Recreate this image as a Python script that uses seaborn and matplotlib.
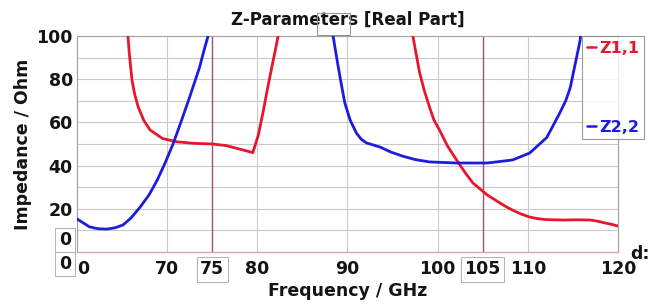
import numpy as np
import pandas as pd
import matplotlib
matplotlib.use("Agg")
import matplotlib.pyplot as plt
import seaborn as sns

# ---- data ----
z11_b1_f = [65.5, 65.65, 65.8, 66.1, 66.4, 66.8, 67.4, 68.1, 69.5, 71.1, 73.0, 75.0, 76.5, 77.7, 78.8, 79.5,
            80.1, 80.6, 81.1, 81.7, 82.0, 82.3, 82.5]
z11_b1_v = [108, 100, 92, 79.6, 73, 67, 61, 56.5, 52.5, 51, 50.3, 50, 49.3, 48, 46.8, 46,
            54, 64, 75, 87.5, 93.5, 100, 106]
z11_b2_f = [97.1, 97.25, 97.6, 98.0, 98.5, 99.1, 99.6, 100.2, 101.1, 102.1, 103.0, 103.9, 104.7, 105.5, 106.9,
            107.7, 108.5, 109.3, 110.2, 111.0, 112.0, 113.9, 115.4, 116.9, 117.7, 118.5, 119.3, 120.0]
z11_b2_v = [106, 100, 92, 83, 75, 67, 61, 56.5, 49, 42.6, 37, 32, 29.2, 26.4, 22.7,
            20.7, 19, 17.5, 16.2, 15.5, 15, 14.8, 14.9, 14.8, 14.3, 13.5, 12.8, 12]
z22_b1_f = [60.0, 61.4, 62.3, 63.3, 64.2, 65.1, 66.0, 67.0, 68.0, 68.9, 69.8, 70.7, 71.6, 72.5, 73.6, 74.0,
            74.5, 74.6]
z22_b1_v = [15.3, 11.6, 10.8, 10.6, 11.2, 12.5, 15.8, 20.8, 26.5, 33.3, 41.5, 50.5, 61, 71.8, 85.6, 92,
            99.5, 104]
z22_b2_f = [88.3, 88.4, 88.6, 88.9, 89.3, 89.7, 90.3, 91.0, 91.5, 92.1, 93.6, 94.8, 96.1, 97.5, 99.1, 102.1,
            105.5, 108.3, 110.2, 112.1, 113.5, 114.2, 114.7, 115.2, 115.8, 115.9]
z22_b2_v = [104, 100, 95, 87.5, 78, 69, 61, 55, 52.3, 50.5, 48.6, 46.3, 44.4, 42.8, 41.7, 41.2,
            41.2, 42.6, 45.8, 53, 64, 70, 76, 86, 98, 104]

series_names = ["Z1,1", "Z2,2"]
x_ticks = [60, 70, 75, 80, 90, 100, 105, 110, 120]
x_tick_labels = ["0", "70", "75", "80", "90", "100", "105", "110", "120"]
y_ticks = [20, 40, 60, 80, 100]
y_tick_labels = ["20", "40", "60", "80", "100"]
marker_freqs = [75, 105]

rows = []
for name, unit, fs, vs in [("Z1,1", 1, z11_b1_f, z11_b1_v), ("Z1,1", 2, z11_b2_f, z11_b2_v),
                           ("Z2,2", 3, z22_b1_f, z22_b1_v), ("Z2,2", 4, z22_b2_f, z22_b2_v)]:
    for f, v in zip(fs, vs):
        rows.append({"freq": f, "z": v, "series": name, "branch": unit})
df = pd.DataFrame(rows)

sns.set_style("white")
plt.rcParams["font.family"] = ["DejaVu Sans"]
plt.rcParams["font.weight"] = "bold"
plt.rcParams["text.color"] = "#141414"
plt.rcParams["axes.labelcolor"] = "#141414"
plt.rcParams["xtick.color"] = "#141414"
plt.rcParams["ytick.color"] = "#141414"

RED = "#e8162c"
BLUE = "#1c1ce0"

fig = plt.figure(figsize=(6.52, 3.05), dpi=100)
ax = fig.add_axes([77 / 652, 1 - 252 / 305, (618 - 77) / 652, (252 - 36) / 305])

sns.lineplot(data=df, x="freq", y="z", hue="series", units="branch", estimator=None,
             sort=False, palette={"Z1,1": RED, "Z2,2": BLUE}, linewidth=2.0, ax=ax, legend=False,
             zorder=3)

ax.set_xlim(60, 120)
ax.set_ylim(0, 100)

# grid
for yv in range(10, 100, 10):
    ax.axhline(yv, color="#c9c9c9", lw=0.8, zorder=1)
for xv in x_ticks[1:-1]:
    if xv in marker_freqs:
        ax.axvline(xv, color="#a05070", lw=1.0, zorder=2)
    else:
        ax.axvline(xv, color="#c9c9c9", lw=0.8, zorder=1)

for s in ["left", "top", "right"]:
    ax.spines[s].set_color("#a0a0a0")
    ax.spines[s].set_linewidth(0.8)
ax.spines["bottom"].set_color("#e0a0b8")
ax.spines["bottom"].set_linewidth(1.0)

ax.set_xticks(x_ticks)
ax.set_xticklabels(x_tick_labels)
ax.set_yticks(y_ticks)
ax.set_yticklabels(y_tick_labels)
ax.tick_params(axis="both", length=0, labelsize=12.5, labelcolor="#141414")
ax.tick_params(axis="x", pad=6)
ax.tick_params(axis="y", pad=3)
for lab in ax.get_xticklabels() + ax.get_yticklabels():
    lab.set_fontweight("bold")
for lab in ax.get_xticklabels():
    if lab.get_text() in ("75", "105"):
        lab.set_bbox(dict(facecolor="none", edgecolor="#b0b0b0", lw=0.7, pad=2.5))
lab0 = ax.get_xticklabels()[0]
lab0.set_horizontalalignment("left")

ax.set_xlabel("Frequency / GHz", fontsize=12.5, fontweight="bold", labelpad=3, color="#141414")
ax.set_ylabel("Impedance / Ohm", fontsize=12.5, fontweight="bold", labelpad=3, color="#141414")
ax.set_title("Z-Parameters [Real Part]", fontsize=12, fontweight="bold", pad=8, color="#141414")

# boxed artifacts
fig.text(65 / 652, 1 - 240 / 305, "0", ha="center", va="center", fontsize=12.5, fontweight="bold",
         bbox=dict(facecolor="white", edgecolor="#b0b0b0", lw=0.7, boxstyle="square,pad=0.2"))
fig.text(65 / 652, 1 - 264 / 305, "0", ha="center", va="center", fontsize=12.5, fontweight="bold",
         bbox=dict(facecolor="white", edgecolor="#b0b0b0", lw=0.7, boxstyle="square,pad=0.2"))
fig.text(640 / 652, 1 - 254 / 305, "d:", ha="center", va="center", fontsize=12.5, fontweight="bold")
fig.patches.append(plt.Rectangle((317 / 652, 1 - 35 / 305), 33 / 652, 22 / 305, transform=fig.transFigure,
                                 fill=False, edgecolor="#909090", lw=0.7))

# legend box
handles = [plt.Line2D([], [], color=RED, lw=1.8), plt.Line2D([], [], color=BLUE, lw=1.8)]
leg = ax.legend(handles, series_names, loc="upper left", bbox_to_anchor=(582 / 652, 1 - 36 / 305),
                bbox_transform=fig.transFigure, frameon=True, fancybox=False, edgecolor="#808080",
                handlelength=0.6, handletextpad=0.2, labelspacing=4.0, borderpad=0.3,
                borderaxespad=0, prop={"weight": "bold", "size": 11.5}, labelcolor="linecolor")
leg.get_frame().set_linewidth(0.8)

fig.savefig("out.png", dpi=100)
